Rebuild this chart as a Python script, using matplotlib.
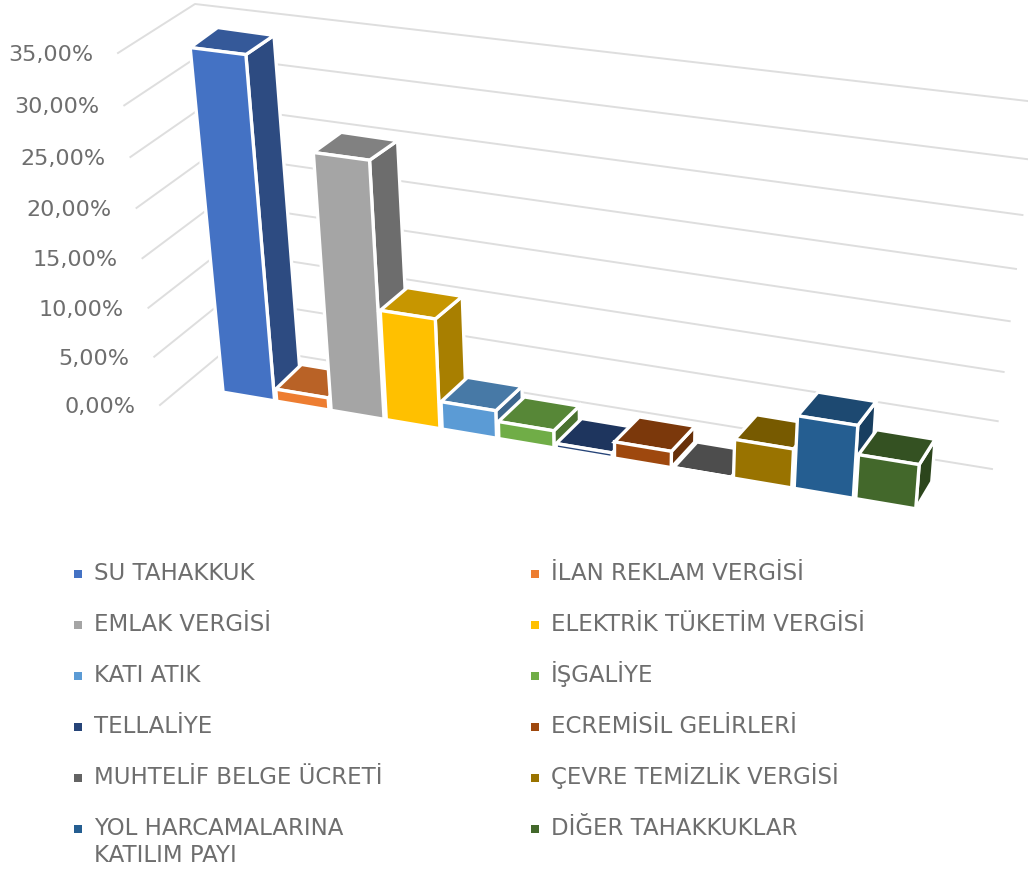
import numpy as np
import matplotlib
matplotlib.use('Agg')
import matplotlib.pyplot as plt
from matplotlib.patches import Polygon

# Data
categories = ['SU TAHAKKUK', 'İLAN REKLAM VERGİSİ', 'EMLAK VERGİSİ', 'ELEKTRİK TÜKETİM VERGİSİ',
              'KATI ATIK', 'İŞGALİYE', 'TELLALİYE', 'ECREMİSİL GELİRLERİ',
              'MUHTELİF BELGE ÜCRETİ', 'ÇEVRE TEMİZLİK VERGİSİ',
              'YOL HARCAMALARINA\nKATILIM PAYI', 'DİĞER TAHAKKUKLAR']
values = [34.5, 1.3, 26.1, 11.4, 2.9, 1.8, 0.5, 1.7, 0.05, 4.0, 7.4, 4.5]
colors = ['#4472C4', '#ED7D31', '#A5A5A5', '#FFC000', '#5B9BD5', '#70AD47',
          '#264478', '#9E480E', '#636363', '#997300', '#255E91', '#43682B']
ticks = [0, 5, 10, 15, 20, 25, 30, 35]
tick_labels = ['0,00%', '5,00%', '10,00%', '15,00%', '20,00%', '25,00%', '30,00%', '35,00%']


def homography(corners):
    # maps unit square (s, t) to pixels, corners: (0,0), (1,0), (0,1), (1,1)
    src = [(0, 0), (1, 0), (0, 1), (1, 1)]
    A, b = [], []
    for (s, t), (x, y) in zip(src, corners):
        A.append([s, t, 1, 0, 0, 0, -s * x, -t * x])
        A.append([0, 0, 0, s, t, 1, -s * y, -t * y])
        b += [x, y]
    h = np.linalg.solve(np.array(A, float), np.array(b, float))

    def project(s, t):
        w = h[6] * s + h[7] * t + 1
        return (h[0] * s + h[1] * t + h[2]) / w, (h[3] * s + h[4] * t + h[5]) / w
    return project


# Perspective planes, in image pixels
left_wall = homography([(160, 405), (232, 345), (118, 53), (195, 4)])
back_wall = homography([(232, 345), (992, 469), (195, 4), (1036, 102)])
bar_front = homography([(222, 392), (917, 509), (188.5, 42), (946, 137)])
bar_back = homography([(247, 367), (933, 482), (216, 22), (961, 126)])

n = len(values)
vmax = 35.0
gap = 0.02


def shade(color, factor):
    rgb = np.array(matplotlib.colors.to_rgb(color))
    return tuple(rgb * factor)


fig = plt.figure(figsize=(10.28, 8.75), dpi=100)
ax = fig.add_axes([0, 0, 1, 1])
ax.set_xlim(0, 1028)
ax.set_ylim(875, 0)
ax.axis('off')

# Gridlines and value labels
for v, label in zip(ticks, tick_labels):
    t = v / vmax
    p0 = left_wall(0, t)
    p1 = left_wall(1, t)
    p2 = back_wall(1, t)
    ax.plot([p0[0], p1[0], p2[0]], [p0[1], p1[1], p2[1]], color='#DEDEDE', lw=1.4, zorder=1)
    ax.text(p0[0] - 25, p0[1] + 2, label, ha='right', va='center', color='#6E6E6E',
            fontsize=16, family='DejaVu Sans', zorder=3)

# Bars, left to right
for i, (val, col) in enumerate(zip(values, colors)):
    u0 = (i + gap) / n
    u1 = (i + 1 - gap) / n
    t = val / vmax
    fb_l, fb_r = bar_front(u0, 0), bar_front(u1, 0)
    ft_l, ft_r = bar_front(u0, t), bar_front(u1, t)
    bb_r = bar_back(u1, 0)
    bt_l, bt_r = bar_back(u0, t), bar_back(u1, t)
    z = 2 + i * 0.01
    ax.add_patch(Polygon([fb_r, bb_r, bt_r, ft_r], fc=shade(col, 0.66), ec='white', lw=2.4, zorder=z))
    ax.add_patch(Polygon([ft_l, ft_r, bt_r, bt_l], fc=shade(col, 0.78), ec='white', lw=2.4, zorder=z))
    ax.add_patch(Polygon([fb_l, fb_r, ft_r, ft_l], fc=col, ec='white', lw=2.4, zorder=z))

# Legend, two columns
legend_x = [78, 535]
legend_y = [574, 625, 676, 727, 778, 829]
line_gap = 27
for i, (name, col) in enumerate(zip(categories, colors)):
    x = legend_x[i % 2]
    y = legend_y[i // 2]
    ax.scatter([x], [y], marker='s', s=34, color=col, linewidths=0, zorder=3)
    for k, line in enumerate(name.split('\n')):
        ax.text(x + 16, y + 6 + k * line_gap, line, ha='left', va='baseline', color='#6E6E6E',
                fontsize=16.5, family='DejaVu Sans', zorder=3)

plt.savefig('out.png', dpi=100)
